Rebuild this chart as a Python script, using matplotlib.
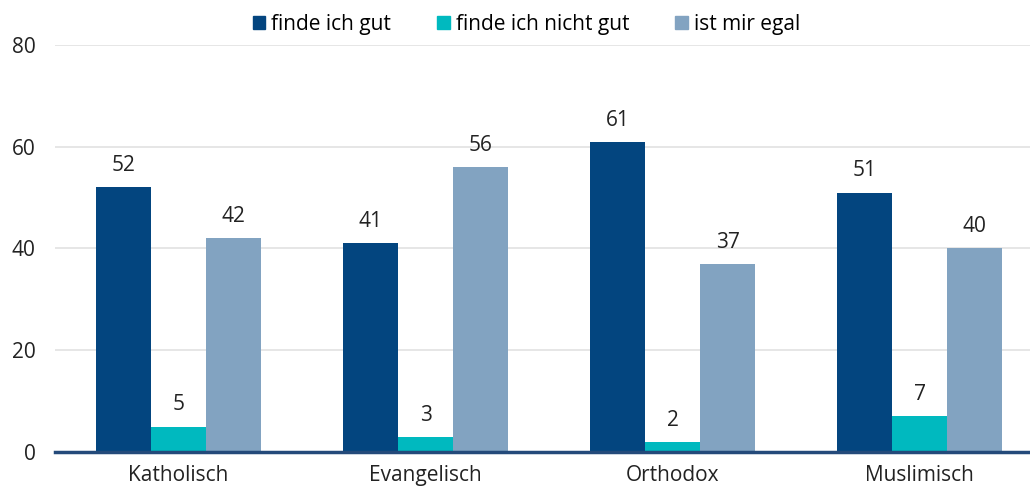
import numpy as np
import matplotlib.pyplot as plt
from matplotlib.patches import Patch

plt.rcParams['font.family'] = ['Open Sans', 'DejaVu Sans']

# Data
categories = ['Katholisch', 'Evangelisch', 'Orthodox', 'Muslimisch']
series = ['finde ich gut', 'finde ich nicht gut', 'ist mir egal']
gut = [52, 41, 61, 51]
nicht_gut = [5, 3, 2, 7]
egal = [42, 56, 37, 40]
y_ticks = [0, 20, 40, 60, 80]

colors = ['#03457f', '#00b9bf', '#82a3c1']
values = [gut, nicht_gut, egal]

fig = plt.figure(figsize=(10.30, 4.94), dpi=100)
ax = fig.add_axes([55 / 1030, 42 / 494, 1 - 55 / 1030, 407 / 494])

x = np.arange(len(categories))
w = 0.223
for i, (vals, col) in enumerate(zip(values, colors)):
    pos = x + (i - 1) * w
    ax.bar(pos, vals, width=w, color=col, zorder=3)
    for p, v in zip(pos, vals):
        ax.annotate(str(v), (p, v), xytext=(0, 8), textcoords='offset points',
                    ha='center', va='bottom', fontsize=15, color='#222222')

ax.set_xlim(-0.5, 3.447)
ax.set_ylim(0, 80)
ax.set_yticks(y_ticks)
ax.set_xticks(x)
ax.set_xticklabels(categories)
ax.grid(axis='y', color='#e2e2e2', lw=1.2, zorder=0)
for s in ['top', 'right', 'left']:
    ax.spines[s].set_visible(False)
ax.spines['bottom'].set_color('#244a7a')
ax.spines['bottom'].set_linewidth(2.5)
ax.spines['bottom'].set_zorder(4)
ax.tick_params(axis='both', length=0, labelsize=15, colors='#222222')
ax.tick_params(axis='y', pad=14)
ax.tick_params(axis='x', pad=9)

handles = [Patch(color=c, label=s) for c, s in zip(colors, series)]
fig.legend(handles=handles, loc='center', bbox_to_anchor=(0.511, 0.95),
           ncol=3, frameon=False, fontsize=15, handlelength=0.6,
           handleheight=0.6, handletextpad=0.3, columnspacing=2.2)

fig.savefig('out.png', dpi=100)
